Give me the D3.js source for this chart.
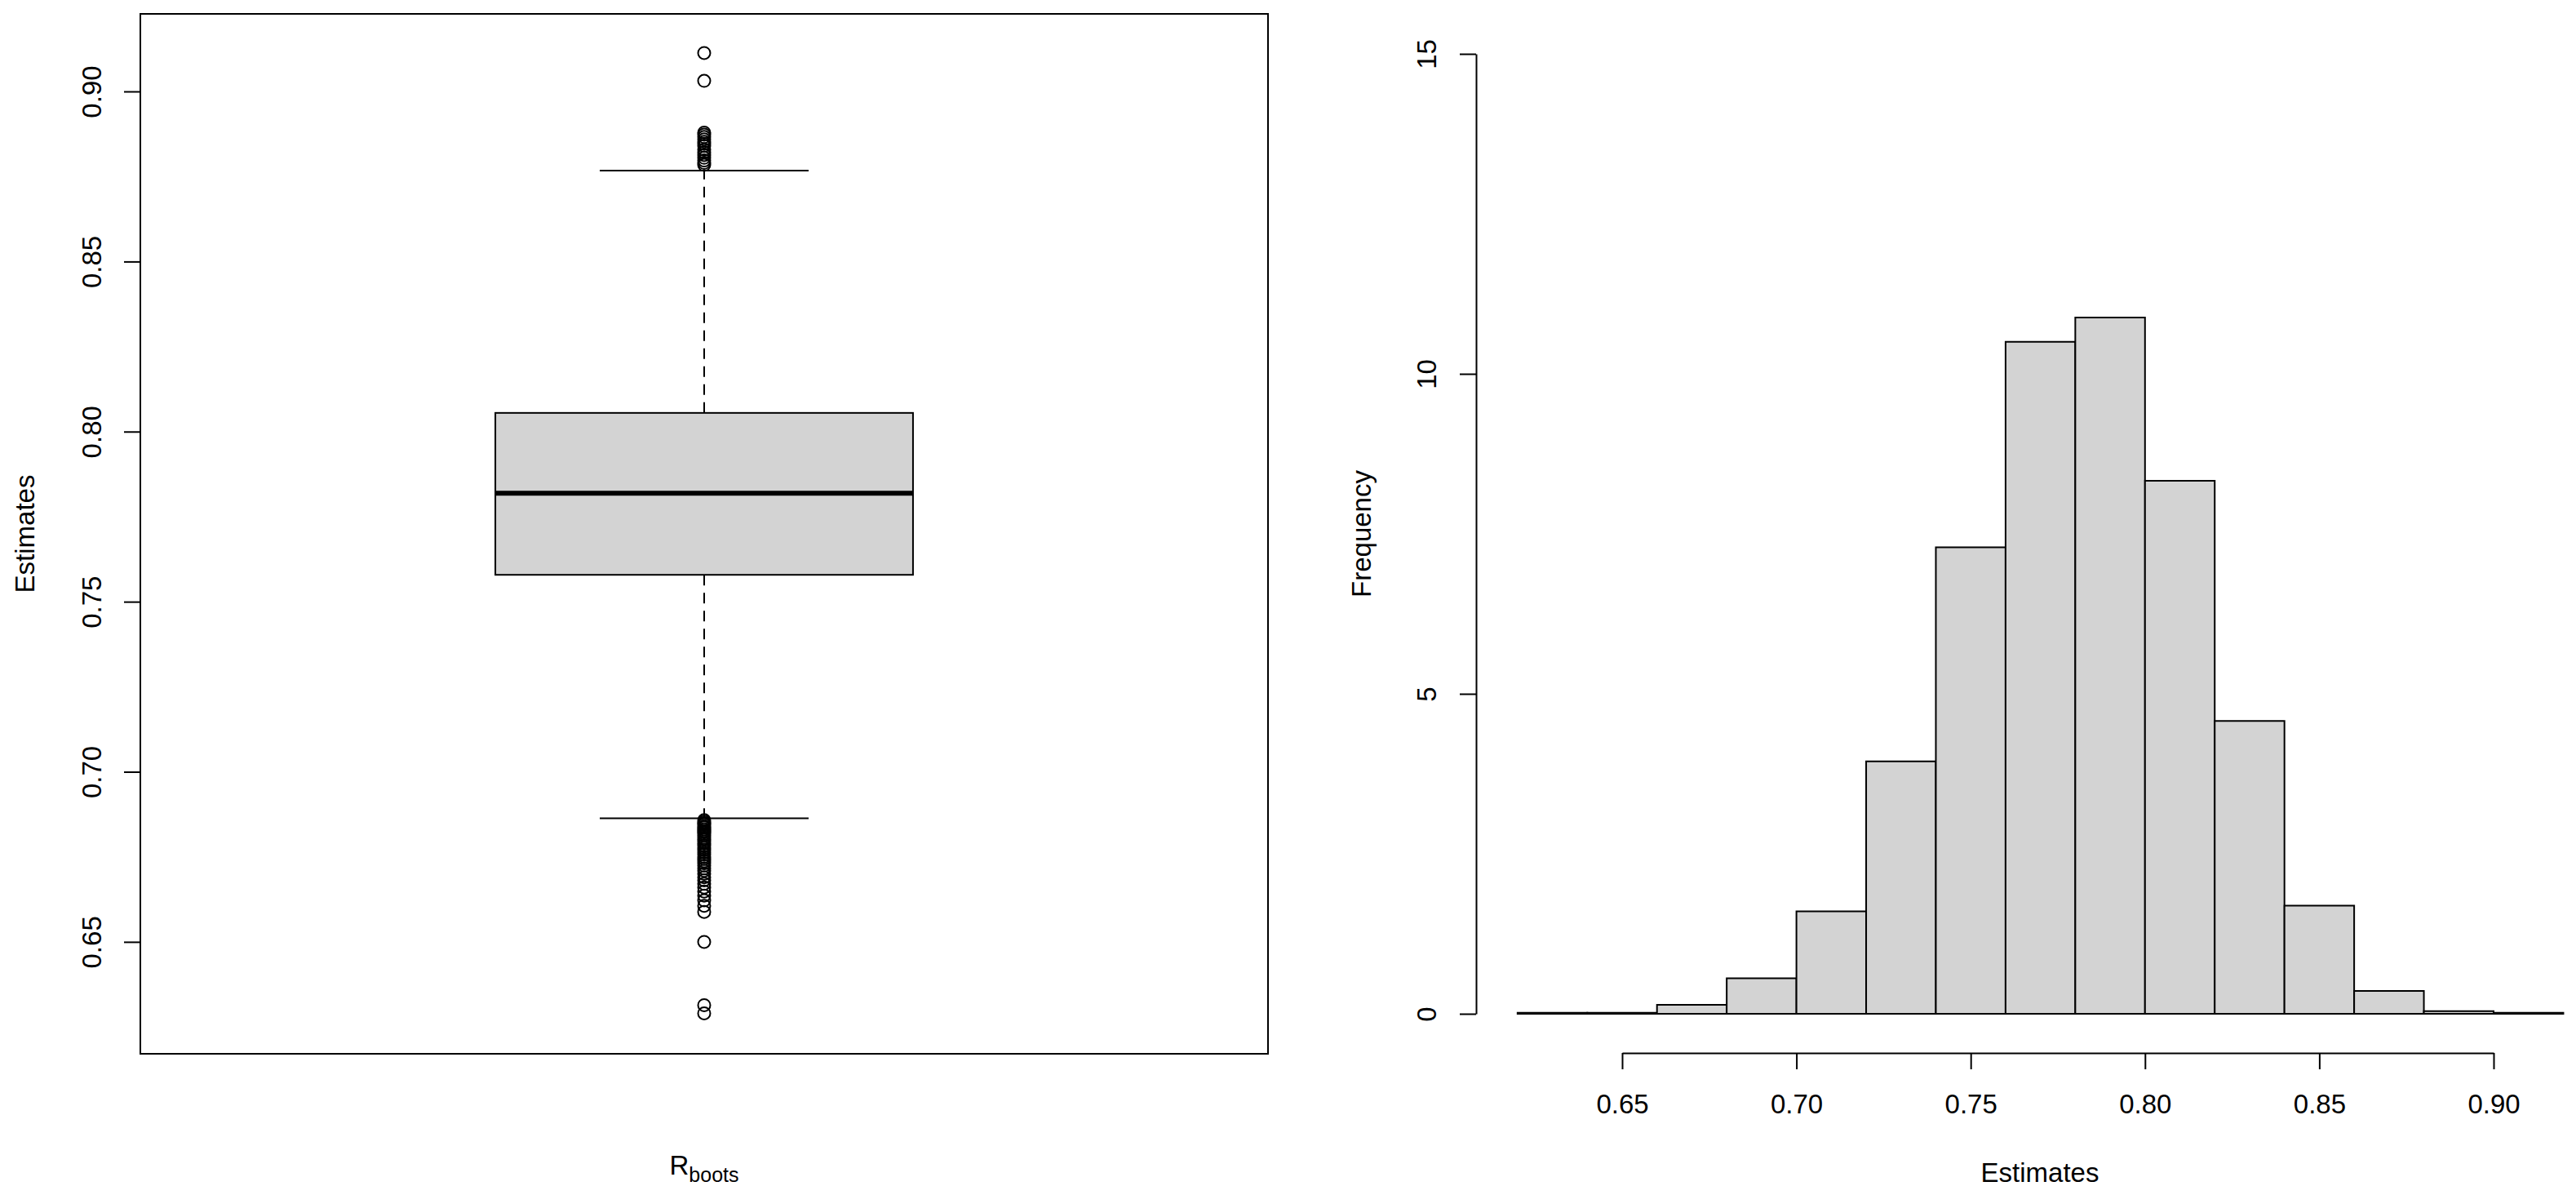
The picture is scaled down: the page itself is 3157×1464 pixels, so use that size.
<!DOCTYPE html>
<html>
<head>
<meta charset="utf-8">
<script src="https://cdn.jsdelivr.net/npm/d3@7"></script>
<style>
  body { margin: 0; background: #fff; }
  text { font-family: "Liberation Sans", Arial, sans-serif; fill: #000; }
</style>
</head>
<body>
<svg id="chart" width="3157" height="1464"></svg>
<script>
// boxplot summary (bootstrap estimates)
var boxStats = {q1: 0.7579, median: 0.7819, q3: 0.8055, lowerWhisker: 0.6863, upperWhisker: 0.8767};
var upperOutliers = [0.9113, 0.9031, 0.8879, 0.8873, 0.8866, 0.8859, 0.8852, 0.8846, 0.8840,
    0.8829, 0.8821, 0.8813, 0.8805, 0.8797, 0.8790, 0.8784];
var lowerOutliers = [0.6858, 0.6853, 0.6849, 0.6845, 0.6840, 0.6836, 0.6831, 0.6826, 0.6822,
    0.6817, 0.6812, 0.6806, 0.6801, 0.6795, 0.6789, 0.6783, 0.6776, 0.6770, 0.6763, 0.6757,
    0.6750, 0.6744, 0.6737, 0.6731, 0.6724, 0.6716, 0.6709, 0.6700, 0.6690, 0.6681, 0.6671,
    0.6660, 0.6648, 0.6636, 0.6622, 0.6606, 0.6588, 0.6500, 0.6314, 0.6290];
var boxTicks = [0.65, 0.70, 0.75, 0.80, 0.85, 0.90];

// histogram
var histBreaks = [0.62, 0.64, 0.66, 0.68, 0.70, 0.72, 0.74, 0.76, 0.78, 0.80, 0.82, 0.84, 0.86, 0.88, 0.90, 0.92];
var histHeights = [0.015, 0.015, 0.14, 0.555, 1.60, 3.945, 7.29, 10.50, 10.88, 8.33, 4.575, 1.69, 0.357, 0.04, 0.015];
var histXTicks = [0.65, 0.70, 0.75, 0.80, 0.85, 0.90];
var histYTicks = [0, 5, 10, 15];

var svg = d3.select('#chart');
svg.append('rect').attr('width', 3157).attr('height', 1464).attr('fill', '#fff');

var fontSize = 33;
var fmt = d3.format('.2f');

// rotate y tick labels like R (parallel to axis)
function rotateLabels(g, offset) {
    g.selectAll('.tick text')
        .attr('x', null).attr('y', null).attr('dy', '0.35em')
        .attr('text-anchor', 'middle')
        .attr('transform', 'translate(' + (-offset) + ',0) rotate(-90)');
}

// ---------- left: boxplot ----------
var L = {left: 172, right: 1554, top: 17, bottom: 1291};
var xL = d3.scaleLinear().domain([0.46, 1.54]).range([L.left, L.right]);
var yL = d3.scaleLinear().domain([0.6171, 0.9228]).range([L.bottom, L.top]);

var gL = svg.append('g');

// whiskers
gL.selectAll('line.whisk')
    .data([[boxStats.q3, boxStats.upperWhisker], [boxStats.q1, boxStats.lowerWhisker]])
    .enter().append('line')
    .attr('x1', xL(1)).attr('x2', xL(1))
    .attr('y1', d => yL(d[0])).attr('y2', d => yL(d[1]))
    .attr('stroke', '#000').attr('stroke-width', 2).attr('stroke-dasharray', '13,9');
gL.selectAll('line.cap')
    .data([boxStats.upperWhisker, boxStats.lowerWhisker])
    .enter().append('line')
    .attr('x1', xL(0.9)).attr('x2', xL(1.1))
    .attr('y1', d => yL(d)).attr('y2', d => yL(d))
    .attr('stroke', '#000').attr('stroke-width', 2);

// box
gL.append('rect')
    .attr('x', xL(0.8)).attr('width', xL(1.2) - xL(0.8))
    .attr('y', yL(boxStats.q3)).attr('height', yL(boxStats.q1) - yL(boxStats.q3))
    .attr('fill', '#d3d3d3').attr('stroke', '#000').attr('stroke-width', 2);
gL.append('line')
    .attr('x1', xL(0.8)).attr('x2', xL(1.2))
    .attr('y1', yL(boxStats.median)).attr('y2', yL(boxStats.median))
    .attr('stroke', '#000').attr('stroke-width', 6);

// outliers
gL.selectAll('circle')
    .data(upperOutliers.concat(lowerOutliers))
    .enter().append('circle')
    .attr('cx', xL(1)).attr('cy', d => yL(d)).attr('r', 7.5)
    .attr('fill', 'none').attr('stroke', '#000').attr('stroke-width', 2);

// y axis
var axL = gL.append('g').attr('transform', 'translate(' + L.left + ',0)')
    .call(d3.axisLeft(yL).tickValues(boxTicks).tickFormat(fmt).tickSize(20).tickSizeOuter(0));
axL.select('.domain').remove();
axL.selectAll('.tick line').attr('stroke-width', 2);
axL.selectAll('text').attr('font-size', fontSize).attr('font-family', null);
rotateLabels(axL, 60);

// frame
gL.append('rect')
    .attr('x', L.left).attr('y', L.top)
    .attr('width', L.right - L.left).attr('height', L.bottom - L.top)
    .attr('fill', 'none').attr('stroke', '#000').attr('stroke-width', 2);

gL.append('text')
    .attr('transform', 'translate(30,' + (L.top + L.bottom) / 2 + ') rotate(-90)')
    .attr('text-anchor', 'middle').attr('dy', '0.35em').attr('font-size', fontSize)
    .text('Estimates');

var xlab = gL.append('text')
    .attr('x', (L.left + L.right) / 2).attr('y', 1439)
    .attr('text-anchor', 'middle').attr('font-size', fontSize);
xlab.append('tspan').text('R');
xlab.append('tspan').attr('font-size', 25).attr('dy', 9).text('boots');

// ---------- right: histogram ----------
var xR = d3.scaleLinear().domain([0.65, 0.90]).range([1988, 3056]);
var yR = d3.scaleLinear().domain([0, 15]).range([1242, 66]);
var axisY = 1290, axisX = 1809;

var bins = histHeights.map((h, i) => ({x0: histBreaks[i], x1: histBreaks[i + 1], h: h}));
var gR = svg.append('g');

gR.selectAll('path.bar')
    .data(bins)
    .enter().append('path')
    .attr('class', 'bar')
    .attr('d', d => 'M' + xR(d.x0) + ',' + yR(0) + 'V' + yR(d.h) + 'H' + xR(d.x1) + 'V' + yR(0) + 'Z')
    .attr('fill', '#d3d3d3').attr('stroke', '#000').attr('stroke-width', 2);

var axRx = gR.append('g').attr('transform', 'translate(0,' + axisY + ')')
    .call(d3.axisBottom(xR).tickValues(histXTicks).tickFormat(fmt).tickSize(20).tickSizeOuter(0));
axRx.select('.domain').attr('stroke-width', 2);
axRx.selectAll('.tick line').attr('stroke-width', 2);
axRx.selectAll('text').attr('font-size', fontSize).attr('font-family', null)
    .attr('y', 62).attr('dy', '0.35em');

var axRy = gR.append('g').attr('transform', 'translate(' + axisX + ',0)')
    .call(d3.axisLeft(yR).tickValues(histYTicks).tickFormat(d3.format('d')).tickSize(20).tickSizeOuter(0));
axRy.select('.domain').attr('stroke-width', 2);
axRy.selectAll('.tick line').attr('stroke-width', 2);
axRy.selectAll('text').attr('font-size', fontSize).attr('font-family', null);
rotateLabels(axRy, 61);

gR.append('text')
    .attr('transform', 'translate(1668,654) rotate(-90)')
    .attr('text-anchor', 'middle').attr('dy', '0.35em').attr('font-size', fontSize)
    .text('Frequency');
gR.append('text')
    .attr('x', 2500).attr('y', 1436).attr('dy', '0.35em')
    .attr('text-anchor', 'middle').attr('font-size', fontSize)
    .text('Estimates');
</script>
</body>
</html>
